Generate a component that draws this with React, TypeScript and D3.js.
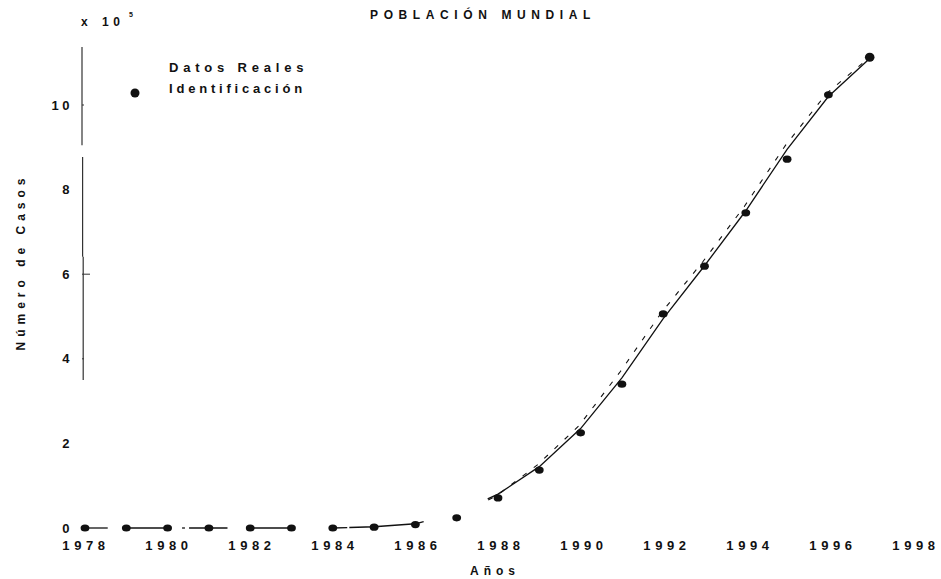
import React from "react";
import * as d3 from "d3";

// ---- data ----
const years = [1978, 1979, 1980, 1981, 1982, 1983, 1984, 1985, 1986, 1987, 1988, 1989, 1990, 1991, 1992, 1993, 1994, 1995, 1996, 1997];
const realValues = [0, 0, 0, 0, 0, 0, 0, 0.02, 0.08, 0.24, 0.71, 1.37, 2.25, 3.4, 5.06, 6.19, 7.45, 8.72, 10.24, 11.13];
const fitValues = [0, 0, 0, 0, 0, 0, 0, 0.03, 0.1, 0.35, 0.8, 1.45, 2.35, 3.55, 4.95, 6.2, 7.5, 8.95, 10.2, 11.1];
const dashYears = [1987.8, 1988, 1989, 1990, 1991, 1992, 1993, 1994, 1995, 1996, 1997];
const dashValues = [0.66, 0.76, 1.5, 2.42, 3.7, 5.1, 6.3, 7.6, 9.05, 10.28, 11.1];
// year ranges where the (scanned) identification line is visible
const fitVisibleRanges: [number, number][] = [
  [1978, 1978.55], [1979, 1980], [1980.35, 1980.42], [1980.52, 1981.45],
  [1982, 1983], [1984, 1984.35], [1984.4, 1986.2], [1987.75, 1997],
];
const xTicks = [1978, 1980, 1982, 1984, 1986, 1988, 1990, 1992, 1994, 1996, 1998];
const yTicks = [0, 2, 4, 6, 8, 10];
const yTickMarks = [4, 6, 10];
const axisSegments: [number, number][] = [[11.37, 9.05], [8.77, 6.41], [6.41, 3.5]];
const legendLabels = ["Datos Reales", "Identificación"];
const title = "POBLACIÓN MUNDIAL";
const xLabel = "Años";
const yLabel = "Número de Casos";

const FONT = "'Liberation Sans', Arial, Helvetica, sans-serif";
const INK = "#111";

export default function App() {
  const W = 941, H = 579;
  const x = d3.scaleLinear().domain([1978, 1998]).range([85, 911]);
  const y = d3.scaleLinear().domain([0, 10]).range([528, 105]);
  const fitAt = d3.scaleLinear().domain(years).range(fitValues);

  const line = d3.line<[number, number]>().x((d) => x(d[0])).y((d) => y(d[1]));

  const fitPaths = fitVisibleRanges.map(([a, b]) => {
    const ts = [a, ...years.filter((t) => t > a && t < b), b];
    return line(ts.map((t) => [t, fitAt(t)] as [number, number])) as string;
  });
  const dashPath = line(dashYears.map((t, i) => [t, dashValues[i]] as [number, number])) as string;

  const axisX = 82;

  return (
    <svg width={W} height={H} style={{ position: "absolute", left: 0, top: 0, background: "#fff" }}
      fontFamily={FONT} fill={INK}>
      {/* title */}
      <text x={483} y={19} fontSize={12} fontWeight="bold" letterSpacing={5.6} textAnchor="middle">{title}</text>

      {/* exponent */}
      <text x={81} y={26} fontSize={12} fontWeight="bold" letterSpacing={3}>x</text>
      <text x={102} y={26} fontSize={12} fontWeight="bold" letterSpacing={4.5}>10</text>
      <text x={129} y={17} fontSize={7} fontWeight="bold">5</text>

      {/* y axis */}
      {axisSegments.map(([a, b], i) => (
        <line key={i} x1={axisX + i * 0.6} x2={axisX + i * 0.6} y1={y(a)} y2={y(b)} stroke="#333" strokeWidth={1.2} />
      ))}
      {yTickMarks.map((v) => (
        <line key={v} x1={axisX} x2={axisX + (v === 6 ? 8 : 2)} y1={y(v)} y2={y(v)} stroke="#333" strokeWidth={1} />
      ))}
      {yTicks.map((v) => (
        <text key={v} x={73} y={y(v)} dy="0.35em" fontSize={13} fontWeight="bold" letterSpacing={3.5} textAnchor="end">{v}</text>
      ))}
      <text transform={`translate(25,262) rotate(-90)`} fontSize={12} fontWeight="bold" letterSpacing={5} textAnchor="middle">{yLabel}</text>

      {/* x tick labels */}
      {xTicks.map((t) => (
        <text key={t} x={x(t) + 1 + (t - 1978) * 0.2} y={550} fontSize={13} fontWeight="bold" letterSpacing={4.6} textAnchor="middle">{t}</text>
      ))}
      <text x={470} y={575} fontSize={12} fontWeight="bold" letterSpacing={5}>{xLabel}</text>

      {/* identification lines */}
      {fitPaths.map((d, i) => (
        <path key={i} d={d} fill="none" stroke={INK} strokeWidth={1.3} />
      ))}
      <path d={dashPath} fill="none" stroke={INK} strokeWidth={1.1} strokeDasharray="5,9" transform="translate(-1.5,0)" />

      {/* real data */}
      {years.map((t, i) => (
        <ellipse key={t} cx={x(t)} cy={y(realValues[i])} rx={i === years.length - 1 ? 4.8 : 4.4} ry={i === years.length - 1 ? 4.5 : 3.6} fill={INK} />
      ))}

      {/* legend */}
      <circle cx={135} cy={93} r={4.5} fill={INK} />
      {legendLabels.map((l, i) => (
        <text key={l} x={169} y={72 + i * 21} fontSize={13} fontWeight="bold" letterSpacing={i === 0 ? 4.8 : 3.8}>{l}</text>
      ))}
    </svg>
  );
}
